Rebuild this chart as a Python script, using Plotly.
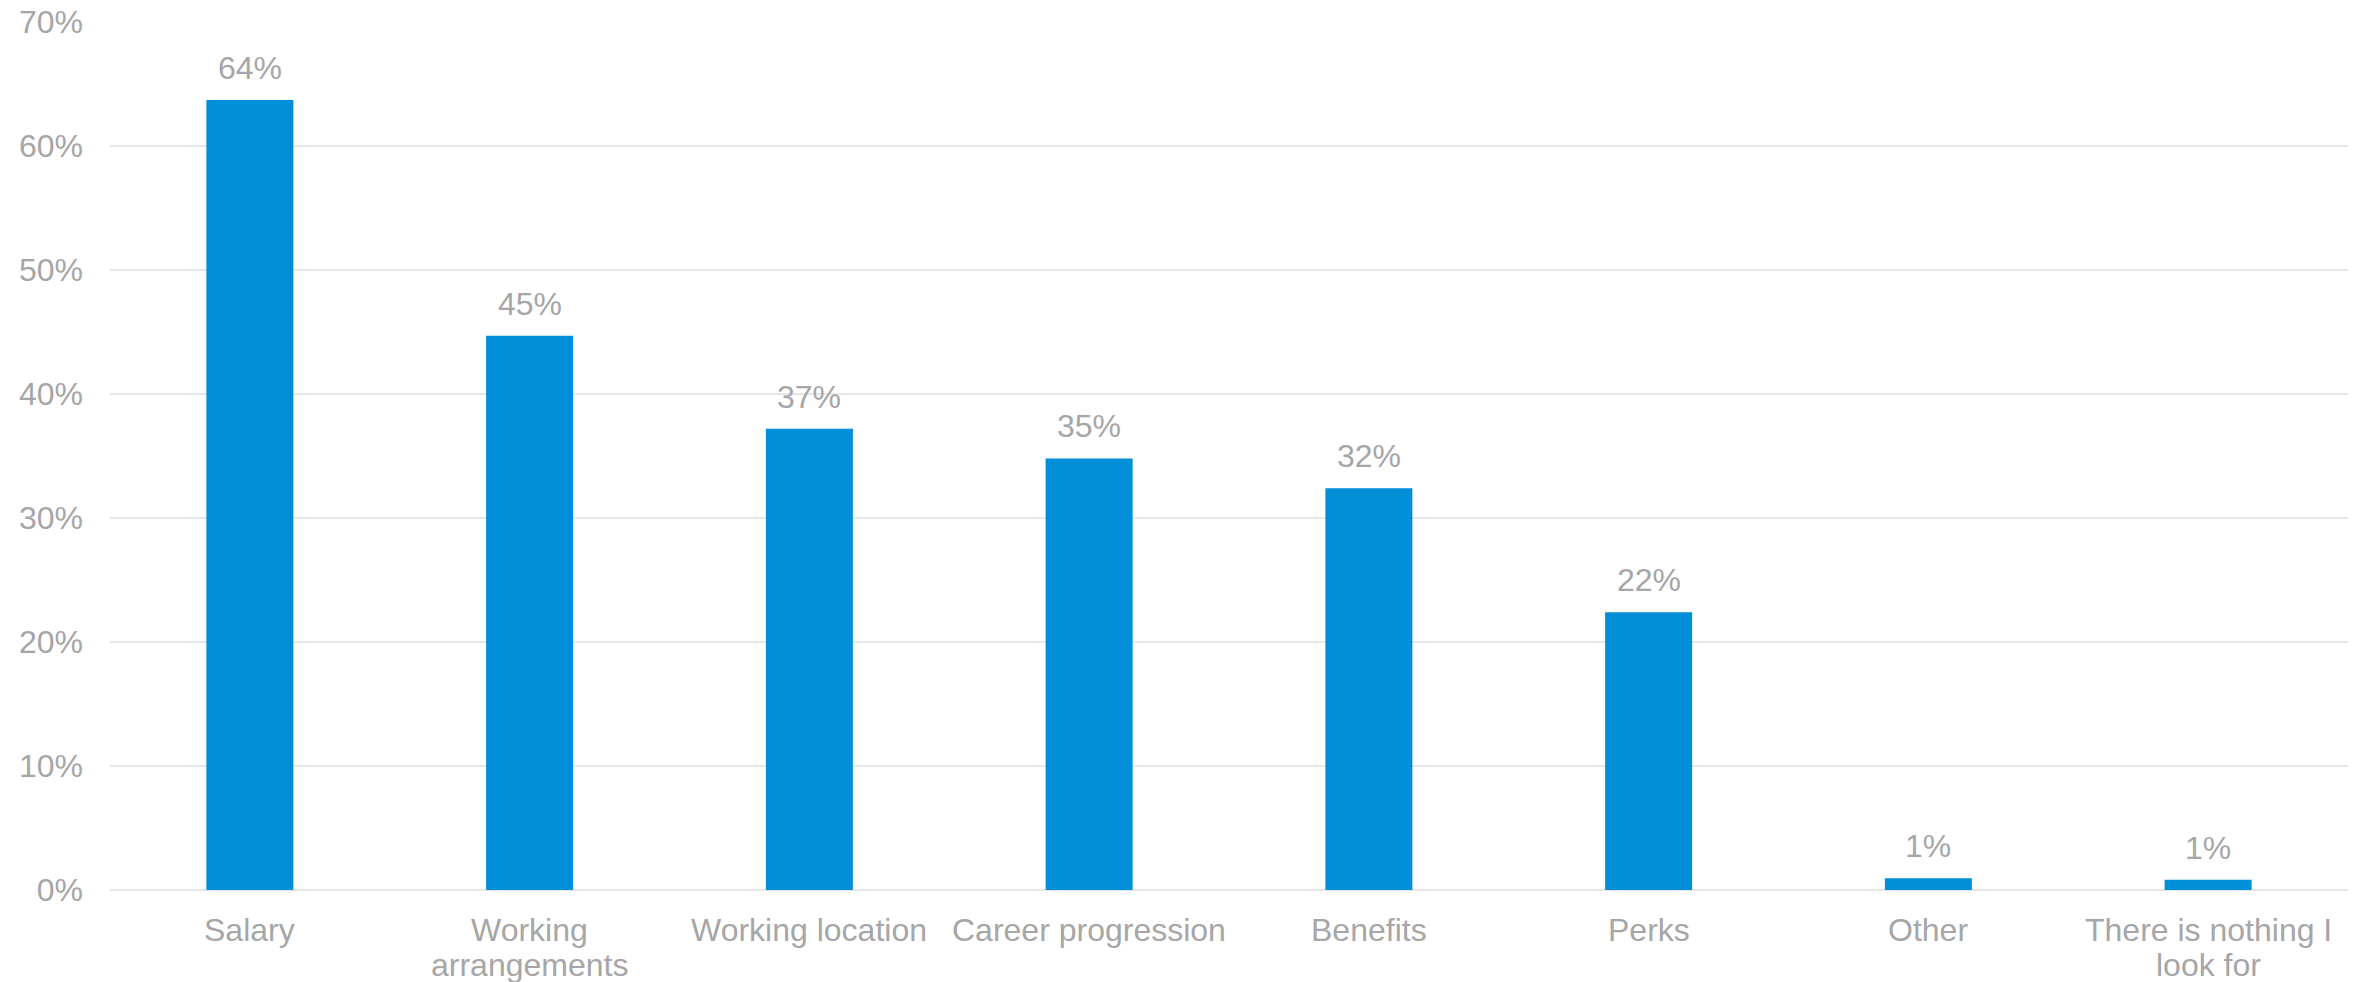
import plotly.graph_objects as go

categories = ["Salary", "Working<br>arrangements", "Working location", "Career progression",
              "Benefits", "Perks", "Other", "There is nothing I<br>look for"]
values = [0.637, 0.447, 0.372, 0.348, 0.324, 0.224, 0.0095, 0.0082]
labels = ["64%", "45%", "37%", "35%", "32%", "22%", "1%", "1%"]

BAR = "#008ED6"
TEXT = "#A6A6A6"
GRID = "#E6E6E6"
FONT = "Liberation Sans, Arial, sans-serif"
FS = 32

fig = go.Figure()
fig.add_trace(go.Bar(x=categories, y=values, marker=dict(color=BAR, line=dict(width=0)),
                     hoverinfo="skip"))

# value labels above bars
for c, v, t in zip(categories, values, labels):
    fig.add_annotation(x=c, y=v, text=t, showarrow=False, yanchor="bottom",
                       yshift=12, font=dict(family=FONT, size=FS, color=TEXT))

# category labels (one annotation per line for tighter line spacing)
for c in categories:
    for i, line in enumerate(c.split("<br>")):
        fig.add_annotation(x=c, y=0, text=line, showarrow=False, yanchor="middle",
                           yshift=-40 - 35 * i, font=dict(family=FONT, size=FS, color=TEXT))

fig.update_layout(
    width=2361, height=982,
    margin=dict(l=110, r=13, t=22, b=92),
    plot_bgcolor="white", paper_bgcolor="white",
    bargap=0.689,
    showlegend=False,
    font=dict(family=FONT, size=FS, color=TEXT),
)
fig.update_yaxes(range=[0, 0.7], dtick=0.1, tickformat=".0%", showgrid=True,
                 gridcolor=GRID, gridwidth=2, zeroline=True, zerolinecolor=GRID,
                 zerolinewidth=2, ticklabelstandoff=26, showline=False, automargin=False,
                 tickfont=dict(family=FONT, size=FS, color=TEXT))
fig.update_xaxes(showgrid=False, showline=False, ticks="", showticklabels=False,
                 automargin=False)

fig.write_html("out.html", config={"displayModeBar": False},
               post_script="document.body.style.margin='0';document.body.style.overflow='hidden';")
